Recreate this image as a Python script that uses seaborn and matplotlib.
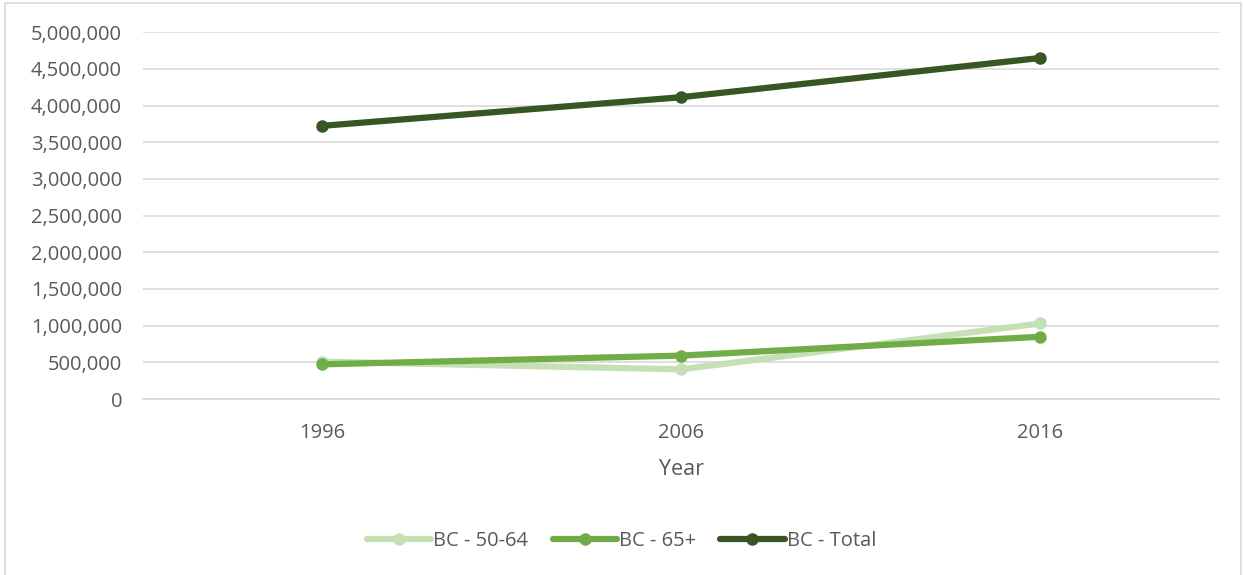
import pandas as pd
import matplotlib.pyplot as plt
import matplotlib.ticker as mticker
from matplotlib.patches import Rectangle
import seaborn as sns

# data
years = ['1996', '2006', '2016']
bc_50_64 = [510000, 405000, 1030000]
bc_65_plus = [473000, 592000, 849000]
bc_total = [3724000, 4114000, 4648000]

series = ['BC - 50-64', 'BC - 65+', 'BC - Total']
colors = ['#c5e0b4', '#70ad47', '#375623']

df = pd.DataFrame({
    'Year': years * 3,
    'Population': bc_50_64 + bc_65_plus + bc_total,
    'Series': [s for s in series for _ in years],
})

sns.set_style('white')
plt.rcParams['font.family'] = ['Open Sans', 'DejaVu Sans']

fig = plt.figure(figsize=(12.43, 5.75), dpi=100)
ax = fig.add_axes([0.115, 0.306, 0.866, 0.638])

sns.lineplot(data=df, x='Year', y='Population', hue='Series', palette=colors,
             marker='o', markersize=9, markeredgewidth=0, linewidth=4.5,
             ax=ax, legend=False, zorder=3)

ax.set_xlim(-0.5, 2.5)
ax.set_ylim(0, 5000000)
ax.yaxis.set_major_locator(mticker.MultipleLocator(500000))
ax.yaxis.set_major_formatter(mticker.FuncFormatter(lambda v, p: f'{int(v):,}'))
ax.grid(axis='y', color='#d9d9d9', linewidth=1.2)
ax.set_axisbelow(True)
for s in ['top', 'right', 'left']:
    ax.spines[s].set_visible(False)
ax.spines['bottom'].set_color('#d9d9d9')
ax.spines['bottom'].set_linewidth(1.2)
ax.tick_params(axis='both', length=0, labelsize=14.5, labelcolor='#595959')
ax.tick_params(axis='y', pad=15)
ax.tick_params(axis='x', pad=17)
ax.set_ylabel('')
ax.set_xlabel('Year', fontsize=15.5, color='#595959', labelpad=12)

handles = [plt.Line2D([], [], color=c, linewidth=4.5, marker='o', markersize=9,
                      markeredgewidth=0) for c in colors]
fig.legend(handles, series, loc='center', bbox_to_anchor=(0.5, 0.059), ncol=3,
           frameon=False, fontsize=14.5, labelcolor='#595959', handlelength=3.2,
           handletextpad=0.1, columnspacing=1.2)

# chart border
fig.patches.append(Rectangle((0.004, -0.01), 0.994, 1.005, transform=fig.transFigure,
                             fill=False, edgecolor='#d9d9d9', linewidth=1.2))

fig.savefig('out.png', dpi=100)
